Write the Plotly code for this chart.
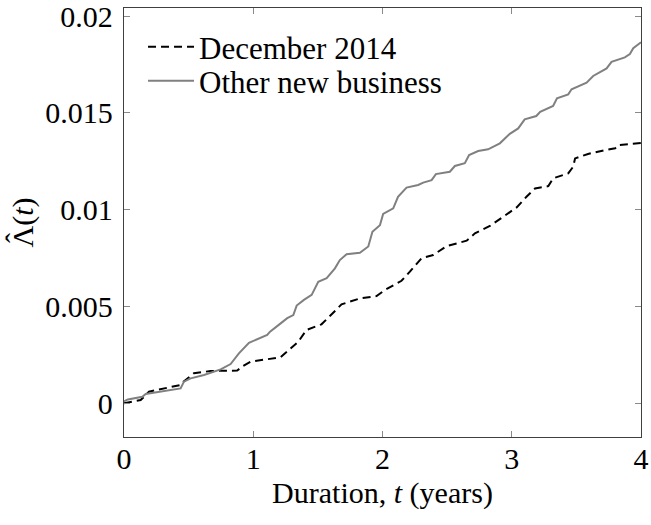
import plotly.graph_objects as go

# Other new business (gray solid)
t_other = [0, 0.03, 0.142, 0.168, 0.438, 0.464, 0.516, 0.619, 0.748, 0.825, 0.889, 0.967,
           1.108, 1.13, 1.212, 1.263, 1.31, 1.336, 1.392, 1.452, 1.503, 1.568, 1.632, 1.67,
           1.722, 1.825, 1.89, 1.922, 1.98, 2.005, 2.083, 2.12, 2.186, 2.276, 2.315, 2.38,
           2.413, 2.521, 2.56, 2.637, 2.67, 2.74, 2.817, 2.908, 2.985, 3.05, 3.10, 3.19,
           3.22, 3.32, 3.35, 3.437, 3.463, 3.579, 3.63, 3.734, 3.772, 3.875, 3.914, 3.94,
           3.99, 4.0]
v_other = [0.0001, 0.0002, 0.00034, 0.00048, 0.00077, 0.00112, 0.00129, 0.00146, 0.00175,
           0.00203, 0.00258, 0.00313, 0.00353, 0.0037, 0.00413, 0.0044, 0.00456, 0.00505,
           0.00534, 0.0056, 0.00628, 0.00646, 0.00697, 0.0074, 0.0077, 0.00778, 0.0081,
           0.00886, 0.0092, 0.00978, 0.01007, 0.01067, 0.01114, 0.01128, 0.0114, 0.01153,
           0.01184, 0.01196, 0.01226, 0.0124, 0.01282, 0.01303, 0.01312, 0.01343, 0.01392,
           0.0142, 0.01467, 0.01484, 0.01506, 0.01536, 0.01575, 0.01596, 0.01622, 0.01656,
           0.01691, 0.0173, 0.01764, 0.01787, 0.01804, 0.01834, 0.0186, 0.01865]

# December 2014 (black dashed)
t_dec = [0, 0.129, 0.193, 0.438, 0.46, 0.541, 0.67, 0.876, 0.915, 0.98,
         1.212, 1.263, 1.348, 1.412, 1.528, 1.593, 1.683, 1.825, 1.954, 2.018,
         2.147, 2.212, 2.302, 2.392, 2.496, 2.651, 2.715, 2.831, 2.934, 3.038,
         3.114, 3.18, 3.283, 3.32, 3.437, 3.475, 3.49, 3.59, 3.72, 3.8,
         3.825, 3.954, 4.0]
v_dec = [0, 0.00017, 0.0006, 0.00095, 0.00112, 0.00155, 0.00167, 0.00169, 0.0019, 0.00215,
         0.00238, 0.00267, 0.00318, 0.00379, 0.00408, 0.00451, 0.00511, 0.00542, 0.00554, 0.00585,
         0.00633, 0.0068, 0.00749, 0.00766, 0.00812, 0.0084, 0.00878, 0.00916, 0.00964, 0.01012,
         0.01067, 0.0111, 0.01122, 0.01162, 0.01188, 0.01222, 0.01265, 0.01288, 0.01308, 0.01317,
         0.01334, 0.01343, 0.01345]

x_ticks = [0, 1, 2, 3, 4]
x_ticklabels = ["0", "1", "2", "3", "4"]
y_ticks = [0, 0.005, 0.01, 0.015, 0.02]
y_ticklabels = ["0", "0.005", "0.01", "0.015", "0.02"]

FONT = "Liberation Serif"
FS = 30

fig = go.Figure()
fig.add_trace(go.Scatter(x=t_dec, y=v_dec, mode="lines", name="December 2014",
                         legend="legend", showlegend=True,
                         line=dict(color="black", width=2, dash="8px,5px")))
fig.add_trace(go.Scatter(x=t_other, y=v_other, mode="lines", name="Other new business",
                         legend="legend2", showlegend=True,
                         line=dict(color="#808080", width=2)))

axis_common = dict(showline=True, mirror="allticks", linecolor="#404040", linewidth=1.3,
                   ticks="inside", ticklen=6, tickcolor="#8a8a8a", tickwidth=1,
                   showgrid=False, zeroline=False, automargin=False,
                   ticklabeloverflow="allow",
                   tickfont=dict(family=FONT, size=FS, color="black"))

fig.update_xaxes(range=[0, 4], tickvals=x_ticks, ticktext=x_ticklabels,
                 ticklabelstandoff=-5,
                 title=dict(text="Duration, <i>t</i> (years)",
                            font=dict(family=FONT, size=FS, color="black"), standoff=7),
                 **axis_common)
fig.update_yaxes(range=[-0.00174, 0.02042], tickvals=y_ticks, ticktext=y_ticklabels,
                 ticklabelstandoff=4,
                 title=dict(text="\u039b(<i>t</i>)",
                            font=dict(family=FONT, size=FS, color="black"), standoff=2),
                 **axis_common)

# hat accent over the Lambda of the y-axis title
fig.add_annotation(text="\u02c6", xref="paper", yref="paper",
                   x=(15 - 124) / 517, y=(437 - 238) / 429,
                   xanchor="center", yanchor="middle", showarrow=False, textangle=-90,
                   font=dict(family=FONT, size=FS, color="black"))

leg_common = dict(xanchor="left", yanchor="middle",
                  bgcolor="rgba(255,255,255,0)", borderwidth=0,
                  font=dict(family=FONT, size=31, color="black"),
                  itemwidth=46, tracegroupgap=0)

fig.update_layout(
    width=651, height=525,
    margin=dict(l=124, r=10, t=8, b=88),
    plot_bgcolor="white", paper_bgcolor="white",
    font=dict(family=FONT, size=FS, color="black"),
    showlegend=True,
    legend=dict(x=0.0368, y=(437 - 47) / 429, **leg_common),
    legend2=dict(x=0.0368, y=(437 - 81) / 429, **leg_common),
)

fig.write_html("out.html", config={"displayModeBar": False},
               post_script="document.body.style.margin='0px';")
